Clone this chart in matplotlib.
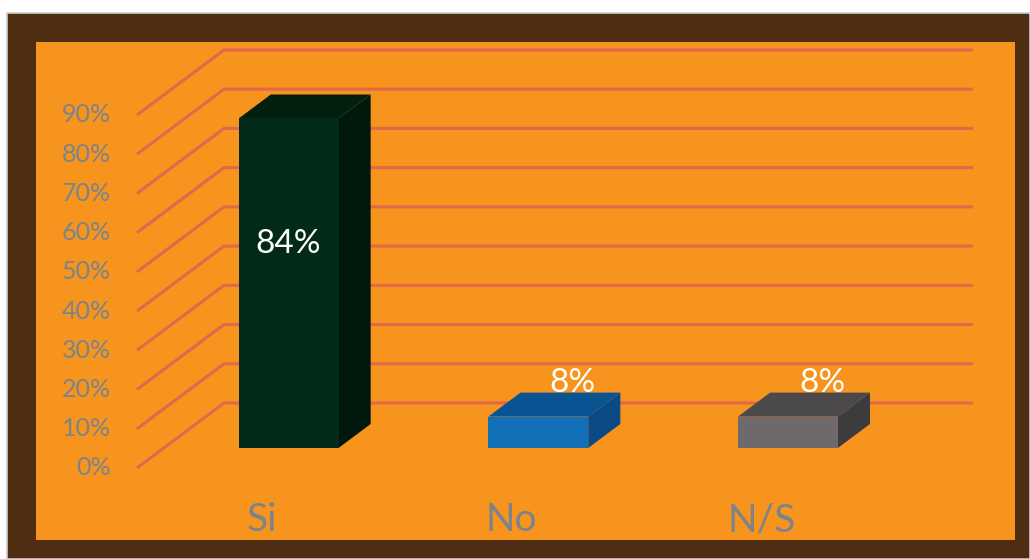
import matplotlib
matplotlib.use("Agg")
import matplotlib.pyplot as plt
from matplotlib.patches import Polygon, Rectangle

# Survey answers and their shares (percent)
categories = ["Si", "No", "N/S"]
values = [84, 8, 8]
tick_values = [0, 10, 20, 30, 40, 50, 60, 70, 80, 90]
tick_labels = [f"{v}%" for v in tick_values]

front_colors = ["#022A19", "#1170B8", "#6E6A6B"]
top_colors = ["#03200F", "#0A5392", "#4B494A"]
side_colors = ["#01180D", "#0A4A86", "#3D3C3D"]

ORANGE = "#F7941E"
BROWN = "#4F2D10"
GRID = "#E2674B"
LABEL_GRAY = "#7B838B"
FONT = ["Lato", "DejaVu Sans"]

W, H = 1030, 559
fig = plt.figure(figsize=(W / 100, H / 100), dpi=100, facecolor="white")

# brown outer frame with a faint light edge
fig.patches.append(Rectangle((7 / W, 0), 1 - 7 / W, (H - 13) / H,
                             transform=fig.transFigure, facecolor=BROWN,
                             edgecolor="#C9CDD0", linewidth=1.2, zorder=-10))

ax = fig.add_axes([36 / W, 19 / H, 979 / W, 498 / H])
ax.set_zorder(1)
ax.set_facecolor(ORANGE)
ax.set_xlim(-0.9045, 3.0167)
ax.set_ylim(-18.36, 108.6)
ax.set_xticks([])
ax.set_yticks([])
for s in ax.spines.values():
    s.set_visible(False)

# oblique depth offset of the chart box (x in category units, y in percent)
DX, DY = 0.3485, 16.57


def proj(x, y, z):
    return (x + z * DX, y + z * DY)


x_left, x_right = -0.5, len(categories) - 0.5

# walls: diagonal lines on the side wall and horizontal lines on the back wall
for t in tick_values:
    p0 = proj(x_left, t, 0)
    p1 = proj(x_left, t, 1)
    p2 = proj(x_right, t, 1)
    ax.plot([p0[0], p1[0], p2[0]], [p0[1], p1[1], p2[1]], color=GRID,
            lw=2.2, solid_capstyle="butt", solid_joinstyle="miter", zorder=1)

# value axis labels
for t, lab in zip(tick_values, tick_labels):
    ax.text(x_left - 0.104, t, lab, ha="right", va="center",
            fontsize=18, color=LABEL_GRAY, family=FONT)

# 3D bars
z0, z1 = 0.308, 0.677
half = 0.2
for i, (v, cf, ct, cs) in enumerate(zip(values, front_colors, top_colors, side_colors)):
    xl, xr = i - half, i + half
    side = [proj(xr, 0, z0), proj(xr, 0, z1), proj(xr, v, z1), proj(xr, v, z0)]
    top = [proj(xl, v, z0), proj(xr, v, z0), proj(xr, v, z1), proj(xl, v, z1)]
    front = [proj(xl, 0, z0), proj(xr, 0, z0), proj(xr, v, z0), proj(xl, v, z0)]
    ax.add_patch(Polygon(side, closed=True, facecolor=cs, edgecolor="none", zorder=3))
    ax.add_patch(Polygon(top, closed=True, facecolor=ct, edgecolor="none", zorder=3))
    ax.add_patch(Polygon(front, closed=True, facecolor=cf, edgecolor="none", zorder=4))

    if v > 50:
        lx, ly = proj(i, v * 0.62, z0)
    else:
        lx, ly = proj(i + 0.03, v + 3.5, 0.62)
    ax.text(lx, ly, f"{v}%", ha="center", va="center", fontsize=24,
            color="white", family=FONT, zorder=6)

# category labels
for i, c in enumerate(categories):
    ax.text(i, -13.3, c, ha="center", va="center", fontsize=28,
            color=LABEL_GRAY, family=FONT)

fig.savefig("out.png", dpi=100, facecolor="white")
